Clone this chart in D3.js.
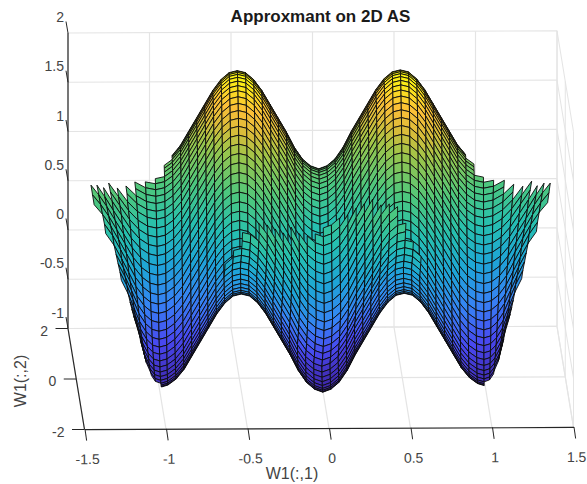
<!DOCTYPE html>
<html>
<head>
<meta charset="utf-8">
<script src="https://d3js.org/d3.v7.min.js"></script>
<style>
  html, body { margin:0; padding:0; background:#fff; }
  text { font-family:"Liberation Sans", Arial, sans-serif; }
</style>
</head>
<body>
<div id="chart-area"></div>
<script>
// ---- values ----
var xTicks = [-1.5, -1, -0.5, 0, 0.5, 1, 1.5];
var yTicks = [2, 0, -2];
var zTicks = [2, 1.5, 1, 0.5, 0, -0.5, -1];

// mesh columns, the height of the wave along W1(:,1) and the lean of each column
var colX = [-1.4,-1.35,-1.3,-1.25,-1.2,-1.15,-1.1,-1.05,-1,-0.95,-0.9,-0.85,-0.8,-0.75,-0.7,-0.65,-0.6,-0.55,-0.5,-0.45,-0.4,-0.35,-0.3,-0.25,-0.2,-0.15,-0.1,-0.05,0,
            0.05,0.1,0.15,0.2,0.25,0.3,0.35,0.4,0.45,0.5,0.55,0.6,0.65,0.7,0.75,0.8,0.85,0.9,0.95,1,1.05,1.1,1.15,1.2,1.25,1.3,1.35,1.4];
var colWave = [0.38,0.28,0.16,0.02,-0.12,-0.26,-0.36,-0.42,-0.44,-0.42,-0.36,-0.26,-0.12,0.02,0.16,0.3,0.41,0.48,0.5,0.48,0.41,0.3,0.16,0.02,-0.12,-0.28,-0.4,-0.47,-0.5,
               -0.47,-0.4,-0.28,-0.12,0.02,0.16,0.3,0.41,0.48,0.5,0.48,0.41,0.3,0.16,0.02,-0.12,-0.26,-0.36,-0.42,-0.44,-0.42,-0.36,-0.26,-0.12,0.02,0.16,0.28,0.38];
var colSkew = [0.3,0.36,0.38,0.34,0.26,0.18,0.12,0.06,0.02,0,0,0,0,0,0,0,0,0,0,0,0,0,0,0,0,0,0,0,0,
               0,0,0,0,0,0,0,0,0,0,0,0,0,0,0,0,0,0,0,-0.02,-0.06,-0.12,-0.18,-0.26,-0.34,-0.38,-0.36,-0.3];

// mesh rows, back to front
var rowY = [0.5,0.47,0.44,0.42,0.39,0.36,0.33,0.31,0.28,0.25,0.22,0.19,0.17,0.14,0.11,0.08,0.06,0.03,0,
            -0.03,-0.06,-0.08,-0.11,-0.14,-0.17,-0.19,-0.22,-0.25,-0.28,-0.31,-0.33,-0.36,-0.39,-0.42,-0.44,-0.47,-0.5];
var rowZ = [1.495,1.498,1.492,1.477,1.455,1.424,1.386,1.339,1.286,1.226,1.161,1.09,1.014,0.932,0.848,0.761,0.672,0.58,0.489,
            0.397,0.306,0.216,0.13,0.045,-0.036,-0.113,-0.184,-0.249,-0.309,-0.362,-0.409,-0.447,-0.478,-0.5,-0.514,-0.52,-0.517];

// first and last row kept in each mesh cell column (the jagged clipped edges)
var cellFirst = [17,16,15,13,12,10,8,7,6,3,0,0,0,0,0,0,0,0,0,0,0,0,0,0,0,0,0,0,
                 0,0,0,0,0,0,0,0,0,0,0,0,0,0,0,0,0,0,3,6,7,8,10,12,13,15,16,17];
var cellLast = [19,21,25,29,32,32,33,33,36,36,36,36,36,36,36,36,36,36,36,36,36,36,36,36,36,36,36,36,
                36,36,36,36,36,36,36,36,36,36,36,36,36,36,36,36,36,36,36,36,33,33,32,32,29,25,21,19];

// front fold: second sheet, nearer and higher than the back one; first column, rows from row 12 down, top edge
var lipCol = 16, lipRow = 12;
var lipZ = [1.179,1.097,1.013,0.926,0.837,0.745,0.654,0.562,0.471,0.381,0.295,0.185,0.079,-0.023,-0.116,-0.214,-0.309];
var lipY = [-0.61,-0.64,-0.67,-0.7,-0.72,-0.75,-0.78,-0.81,-0.84,-0.86,-0.89,-0.8,-0.72,-0.62,-0.53,-0.41,-0.28];
var lipFirst = [26,25,23,23,21,20,19,18,16,15,14,13,12,12,13,14,15,16,18,19,20,22,24,25];

// colormap stops against height
var colorZ = [-1,-0.55,-0.18,0.19,0.55,0.9,1.29,1.5,1.7,2];
var colorHex = ["#3e26a8","#4848f0","#3782f5","#1ea5d7","#26c0b0","#4cc77e","#9cc64a","#d8bc3a","#fcbf38","#f9fa0d"];

// ---- layout ----
var width = 587, height = 484;

var svg = d3.select("#chart-area")
    .append("svg")
        .attr("width", width)
        .attr("height", height)
        .style("display", "block");

var xPos = d3.scaleLinear().domain([-1.5, 1.5]).range([68, 557]);
var xTilt = d3.scaleLinear().domain([-1.5, 1.5]).range([0, -2.2]);
var yPosX = d3.scaleLinear().domain([2, -2]).range([0, 16.5]);
var yPosY = d3.scaleLinear().domain([2, -2]).range([0, 101]);
var zPos = d3.scaleLinear().domain([-1, 2]).range([328.5, 33]);
var zColor = d3.scaleLinear().domain(colorZ).range(colorHex);

function project(x, y, z) {
    return [xPos(x) + yPosX(y), zPos(z) + yPosY(y) + xTilt(x)];
}

var gridColor = "#e4e4e4", axisColor = "#262626", textColor = "#444";

function seg(parent, a, b, color, w) {
    parent.append("line")
        .attr("x1", a[0]).attr("y1", a[1])
        .attr("x2", b[0]).attr("y2", b[1])
        .attr("stroke", color)
        .attr("stroke-width", w);
}

// Grid
var grid = svg.append("g").attr("class", "grid");
zTicks.forEach(function(z) {
    seg(grid, project(-1.5, 2, z), project(1.5, 2, z), gridColor, 1.2);
    seg(grid, project(1.5, 2, z), project(1.5, -2, z), gridColor, 1);
});
xTicks.forEach(function(x) {
    seg(grid, project(x, 2, 2), project(x, 2, -1), gridColor, 1.2);
    seg(grid, project(x, 2, -1), project(x, -2, -1), gridColor, 1.2);
});
yTicks.forEach(function(y) {
    seg(grid, project(-1.5, y, -1), project(1.5, y, -1), gridColor, 1.2);
    seg(grid, project(1.5, y, 2), project(1.5, y, -1), gridColor, 1);
});

// Axes
var axes = svg.append("g").attr("class", "axes");
seg(axes, project(-1.5, 2, 2), project(-1.5, 2, -1), axisColor, 1.2);
seg(axes, project(-1.5, 2, -1), project(-1.5, -2, -1), axisColor, 1.2);

zTicks.forEach(function(z) {
    var p = project(-1.5, 2, z);
    seg(axes, p, [p[0] - 2, p[1] - 11.5], axisColor, 1);
    axes.append("text")
        .attr("x", 64)
        .attr("y", p[1] - 16)
        .attr("dy", "0.36em")
        .attr("text-anchor", "end")
        .attr("font-size", "14px")
        .attr("fill", textColor)
        .text(z);
});

yTicks.forEach(function(y) {
    var p = project(-1.5, y, -1);
    seg(axes, p, [p[0] - 12.5, p[1]], axisColor, 1);
    axes.append("text")
        .attr("x", p[0] - 20)
        .attr("y", p[1] + 2)
        .attr("dy", "0.36em")
        .attr("text-anchor", "end")
        .attr("font-size", "14px")
        .attr("fill", textColor)
        .text(y);
});

// X Axis
var xAxisCall = d3.axisBottom(xPos)
    .tickValues(xTicks)
    .tickSize(0)
    .tickFormat(function(d) { return +d; });
var xAxis = svg.append("g")
    .attr("class", "x axis")
    .attr("transform", "translate(" + yPosX(-2) + "," + (zPos(-1) + yPosY(-2)) + ") rotate(-0.26)")
    .call(xAxisCall);
xAxis.select(".domain").attr("stroke", axisColor).attr("stroke-width", 1.2);
xAxis.selectAll(".tick line")
    .attr("x2", 1.6)
    .attr("y2", 11.5)
    .attr("stroke", axisColor);
xAxis.selectAll(".tick text")
    .attr("x", 2.5)
    .attr("y", 25)
    .attr("font-size", "14px")
    .attr("font-family", '"Liberation Sans", Arial, sans-serif')
    .attr("fill", textColor);

// Surface
function sheet(cls, rowHeight, rowDepth, firstCol, firsts, lasts) {
    var cells = [];
    firsts.forEach(function(f, k) {
        for (var j = f; j < lasts[k]; j++) cells.push({ i: k + firstCol, j: j });
    });
    cells.sort(function(a, b) { return a.j - b.j; });

    var line = d3.line();
    svg.append("g").attr("class", cls)
        .selectAll("path")
        .data(cells)
        .join("path")
            .attr("d", function(d) {
                return line([[d.i, d.j], [d.i + 1, d.j], [d.i + 1, d.j + 1], [d.i, d.j + 1]].map(function(v) {
                    return project(colX[v[0]] - colSkew[v[0]] * rowY[v[1]], rowDepth(v[1]), colWave[v[0]] + rowHeight(v[1]));
                })) + "Z";
            })
            .attr("fill", function(d) { return zColor(colWave[d.i] + rowHeight(d.j)); })
            .attr("stroke", "#0b0b0b")
            .attr("stroke-width", 1)
            .attr("stroke-opacity", 0.9)
            .attr("stroke-linejoin", "round");
}

sheet("surface", function(j) { return rowZ[j]; }, function(j) { return rowY[j]; }, 0, cellFirst, cellLast);
sheet("fold", function(j) { return lipZ[j - lipRow]; }, function(j) { return lipY[j - lipRow]; }, lipCol, lipFirst,
    lipFirst.map(function() { return lipRow + lipZ.length - 1; }));

// Labels
svg.append("text")
    .attr("x", 320.5)
    .attr("y", 22)
    .attr("text-anchor", "middle")
    .attr("font-size", "17px")
    .attr("font-weight", "bold")
    .attr("fill", "#1a1a1a")
    .text("Approxmant on 2D AS");

svg.append("text")
    .attr("x", 292)
    .attr("y", 479)
    .attr("text-anchor", "middle")
    .attr("font-size", "16px")
    .attr("fill", textColor)
    .text("W1(:,1)");

svg.append("text")
    .attr("transform", "translate(26,381) rotate(-90)")
    .attr("text-anchor", "middle")
    .attr("font-size", "16px")
    .attr("fill", textColor)
    .text("W1(:,2)");
</script>
</body>
</html>
